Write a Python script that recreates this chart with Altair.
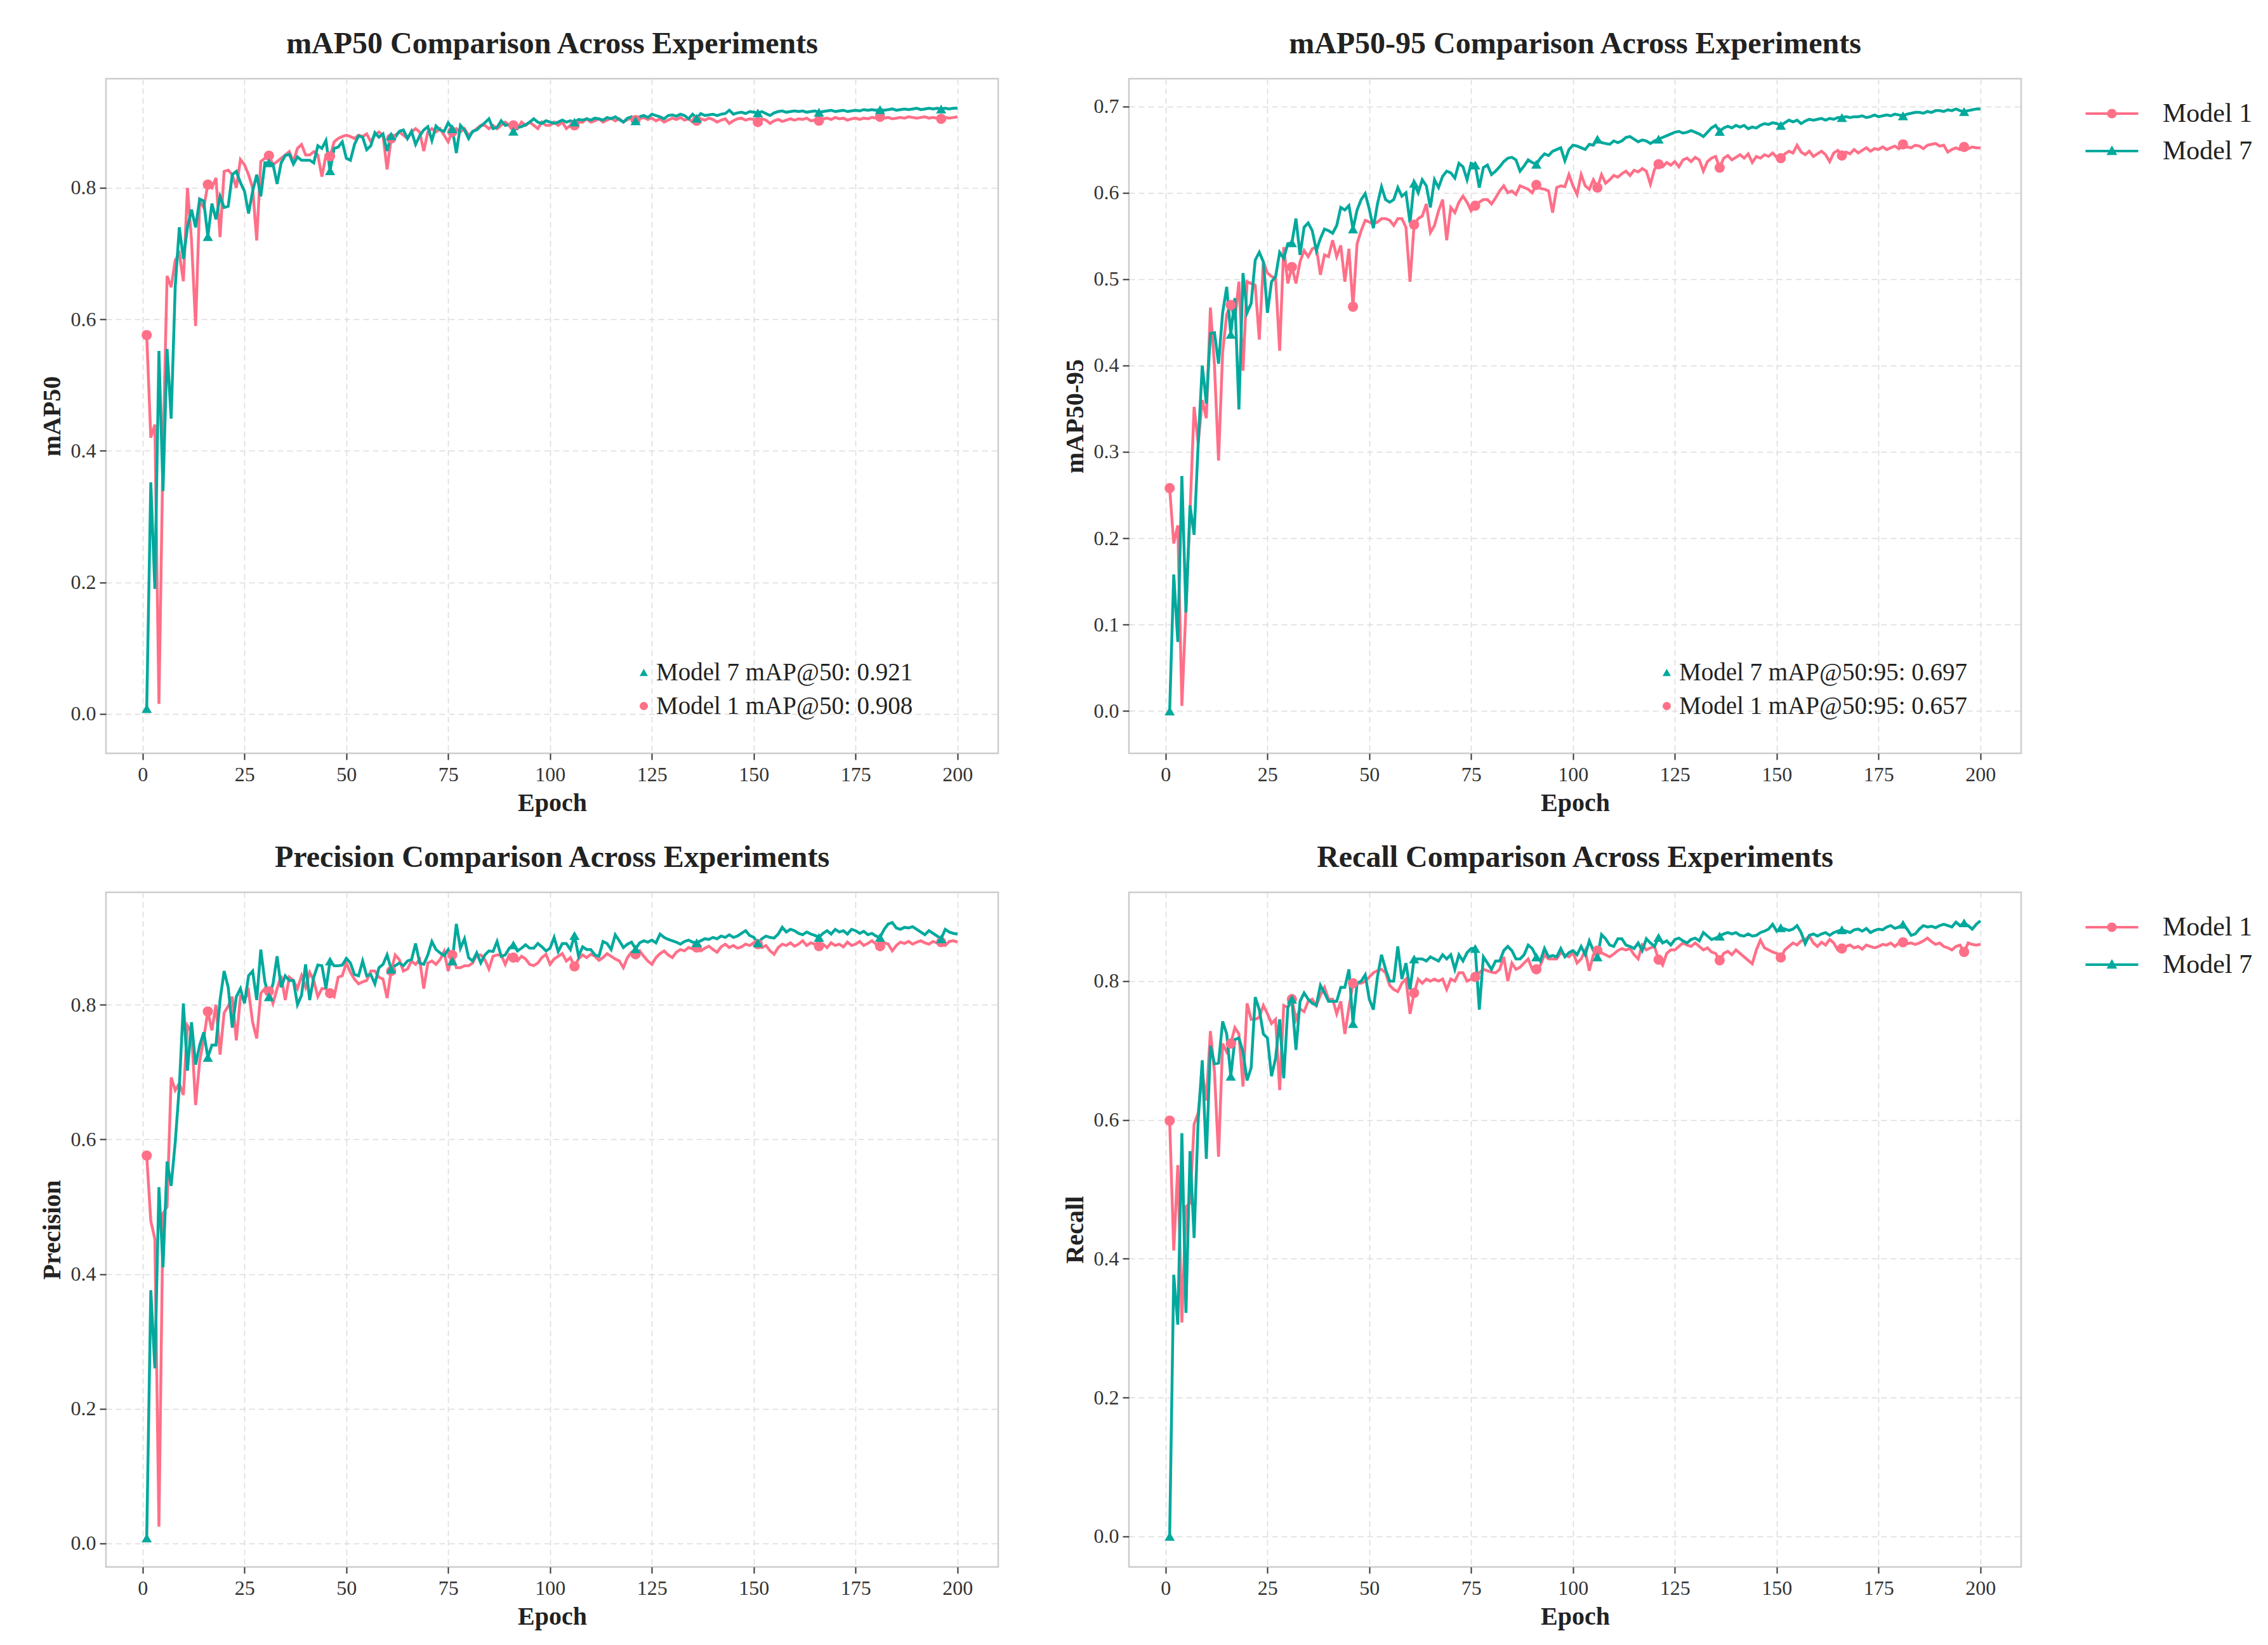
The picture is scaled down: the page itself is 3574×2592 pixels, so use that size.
import pandas as pd
import altair as alt

FONT = "Liberation Serif"
PINK = "#ff6f88"
TEAL = "#00a99d"

epochs = list(range(1, 201))
models = ["Model 1", "Model 7"]

# mAP50
m1_map50 = [
    0.576, 0.420, 0.440, 0.015, 0.400, 0.666, 0.649, 0.690, 0.700, 0.658,
    0.800, 0.720, 0.590, 0.780, 0.770, 0.805, 0.800, 0.815, 0.725, 0.825,
    0.827, 0.820, 0.800, 0.843, 0.835, 0.820, 0.800, 0.720, 0.840, 0.845,
    0.849, 0.835, 0.840, 0.845, 0.850, 0.855, 0.840, 0.860, 0.866, 0.850,
    0.850, 0.855, 0.850, 0.817, 0.850, 0.848, 0.870, 0.875, 0.878, 0.880,
    0.878, 0.875, 0.880, 0.878, 0.882, 0.870, 0.880, 0.885, 0.880, 0.828,
    0.875, 0.880, 0.885, 0.880, 0.875, 0.885, 0.890, 0.885, 0.856, 0.885,
    0.890, 0.885, 0.890, 0.880, 0.870, 0.885, 0.890, 0.885, 0.890, 0.880,
    0.885, 0.890, 0.895, 0.895, 0.890, 0.895, 0.890, 0.895, 0.900, 0.895,
    0.895, 0.890, 0.900, 0.895, 0.900, 0.895, 0.890, 0.900, 0.895, 0.895,
    0.900, 0.895, 0.900, 0.890, 0.895, 0.895, 0.900, 0.900, 0.905, 0.900,
    0.902, 0.905, 0.900, 0.903, 0.906, 0.902, 0.905, 0.900, 0.904, 0.906,
    0.903, 0.905, 0.907, 0.904, 0.906, 0.902, 0.905, 0.900, 0.903, 0.906,
    0.904, 0.907, 0.903, 0.905, 0.900, 0.902, 0.905, 0.903, 0.906, 0.904,
    0.900, 0.903, 0.905, 0.898, 0.902, 0.905, 0.906, 0.903, 0.905, 0.904,
    0.900, 0.905, 0.903, 0.898, 0.902, 0.904, 0.901, 0.903, 0.905, 0.903,
    0.905, 0.904, 0.906, 0.902, 0.903, 0.902, 0.905, 0.906, 0.904, 0.907,
    0.905, 0.906, 0.903, 0.905, 0.906, 0.904, 0.906, 0.905, 0.907, 0.906,
    0.908, 0.906, 0.907, 0.905, 0.906, 0.907, 0.906, 0.908, 0.907, 0.906,
    0.907, 0.908, 0.906, 0.907, 0.906, 0.905, 0.907, 0.906, 0.907, 0.908,
]
m7_map50 = [
    0.008, 0.352, 0.190, 0.552, 0.339, 0.555, 0.449, 0.650, 0.740, 0.692,
    0.740, 0.767, 0.740, 0.783, 0.780, 0.726, 0.776, 0.752, 0.787, 0.770,
    0.772, 0.820, 0.825, 0.808, 0.795, 0.761, 0.795, 0.820, 0.787, 0.838,
    0.838, 0.836, 0.806, 0.838, 0.849, 0.851, 0.836, 0.847, 0.842, 0.842,
    0.842, 0.838, 0.864, 0.860, 0.872, 0.826, 0.860, 0.862, 0.870, 0.845,
    0.842, 0.866, 0.879, 0.877, 0.858, 0.864, 0.884, 0.877, 0.882, 0.856,
    0.879, 0.877, 0.886, 0.888, 0.875, 0.886, 0.866, 0.879, 0.888, 0.893,
    0.872, 0.894, 0.888, 0.886, 0.899, 0.890, 0.853, 0.895, 0.888, 0.875,
    0.886, 0.888, 0.894, 0.899, 0.905, 0.890, 0.892, 0.902, 0.895, 0.896,
    0.886, 0.892, 0.893, 0.896, 0.900, 0.905, 0.900, 0.898, 0.902, 0.900,
    0.898, 0.900, 0.903, 0.900, 0.902, 0.900, 0.904, 0.903, 0.905, 0.903,
    0.906, 0.905, 0.903, 0.907, 0.905, 0.908, 0.904, 0.900, 0.906, 0.908,
    0.902, 0.908, 0.910, 0.907, 0.912, 0.910, 0.908, 0.905, 0.910, 0.911,
    0.909, 0.912, 0.910, 0.905, 0.912, 0.906, 0.913, 0.910, 0.911, 0.912,
    0.910, 0.912, 0.913, 0.918, 0.912, 0.914, 0.915, 0.913, 0.916, 0.915,
    0.914, 0.916, 0.913, 0.910, 0.914, 0.916, 0.917, 0.915, 0.916, 0.917,
    0.916, 0.917, 0.915, 0.916, 0.917, 0.915, 0.916, 0.917, 0.918, 0.916,
    0.917, 0.918, 0.916, 0.917, 0.918, 0.917, 0.919, 0.918, 0.919, 0.918,
    0.919, 0.918, 0.919, 0.920, 0.918, 0.919, 0.920, 0.919, 0.920, 0.921,
    0.919, 0.920, 0.921, 0.920, 0.921, 0.920, 0.921, 0.920, 0.921, 0.921,
]

# mAP50-95
m1_map5095 = [
    0.258, 0.194, 0.215, 0.006, 0.120, 0.230, 0.352, 0.310, 0.360, 0.339,
    0.467, 0.400, 0.290, 0.415, 0.459, 0.470, 0.453, 0.497, 0.394, 0.497,
    0.495, 0.493, 0.430, 0.520, 0.507, 0.503, 0.501, 0.417, 0.537, 0.495,
    0.514, 0.495, 0.520, 0.533, 0.526, 0.535, 0.537, 0.505, 0.528, 0.526,
    0.545, 0.526, 0.539, 0.497, 0.535, 0.468, 0.541, 0.556, 0.568, 0.566,
    0.564, 0.566, 0.570, 0.570, 0.568, 0.562, 0.570, 0.570, 0.560, 0.497,
    0.563, 0.570, 0.573, 0.587, 0.554, 0.562, 0.579, 0.592, 0.545, 0.583,
    0.577, 0.589, 0.596, 0.589, 0.579, 0.585, 0.589, 0.592, 0.592, 0.587,
    0.594, 0.602, 0.608, 0.600, 0.602, 0.598, 0.608, 0.606, 0.604, 0.600,
    0.609, 0.605, 0.604, 0.602, 0.577, 0.606, 0.608, 0.607, 0.621, 0.608,
    0.598, 0.621, 0.608, 0.604, 0.615, 0.606, 0.621, 0.611, 0.615, 0.620,
    0.618, 0.622, 0.625, 0.620, 0.626, 0.624, 0.628, 0.625, 0.610, 0.627,
    0.633, 0.630, 0.635, 0.632, 0.636, 0.630, 0.638, 0.640, 0.636, 0.641,
    0.638, 0.625, 0.636, 0.640, 0.642, 0.629, 0.640, 0.643, 0.638, 0.641,
    0.644, 0.640, 0.645, 0.635, 0.642, 0.640, 0.644, 0.642, 0.646, 0.641,
    0.640, 0.645, 0.648, 0.646, 0.655, 0.647, 0.644, 0.648, 0.642, 0.645,
    0.648, 0.644, 0.636, 0.646, 0.649, 0.643, 0.647, 0.645, 0.650, 0.646,
    0.649, 0.652, 0.648, 0.651, 0.650, 0.653, 0.650, 0.652, 0.654, 0.651,
    0.656, 0.653, 0.652, 0.655, 0.654, 0.651, 0.655, 0.656, 0.657, 0.654,
    0.655, 0.647, 0.650, 0.652, 0.650, 0.653, 0.651, 0.653, 0.652, 0.652,
]
m7_map5095 = [
    0.000, 0.158, 0.080, 0.272, 0.114, 0.238, 0.204, 0.309, 0.400, 0.356,
    0.437, 0.438, 0.402, 0.461, 0.491, 0.436, 0.478, 0.349, 0.507, 0.461,
    0.472, 0.522, 0.531, 0.520, 0.461, 0.497, 0.503, 0.531, 0.524, 0.541,
    0.542, 0.570, 0.528, 0.560, 0.565, 0.556, 0.533, 0.547, 0.558, 0.556,
    0.553, 0.562, 0.583, 0.580, 0.585, 0.558, 0.580, 0.592, 0.599, 0.581,
    0.559, 0.587, 0.607, 0.592, 0.589, 0.592, 0.606, 0.596, 0.600, 0.565,
    0.611, 0.600, 0.615, 0.608, 0.583, 0.615, 0.606, 0.619, 0.625, 0.623,
    0.617, 0.634, 0.630, 0.615, 0.634, 0.632, 0.606, 0.629, 0.632, 0.621,
    0.625, 0.630, 0.636, 0.640, 0.641, 0.638, 0.625, 0.631, 0.638, 0.635,
    0.633, 0.640, 0.645, 0.643, 0.648, 0.650, 0.652, 0.637, 0.650, 0.655,
    0.654, 0.652, 0.650, 0.656, 0.655, 0.662, 0.658, 0.657, 0.656, 0.660,
    0.658, 0.660, 0.664, 0.665, 0.662, 0.659, 0.661, 0.660, 0.657, 0.660,
    0.662, 0.664, 0.666, 0.668, 0.670, 0.671, 0.669, 0.670, 0.672, 0.670,
    0.668, 0.665, 0.670, 0.675, 0.678, 0.671, 0.675, 0.677, 0.675, 0.678,
    0.676, 0.678, 0.674, 0.676, 0.675, 0.678, 0.680, 0.679, 0.681, 0.680,
    0.678, 0.681, 0.684, 0.682, 0.684, 0.680, 0.683, 0.685, 0.684, 0.685,
    0.686, 0.684, 0.686, 0.685, 0.687, 0.687, 0.688, 0.687, 0.688, 0.688,
    0.689, 0.687, 0.688, 0.690, 0.688, 0.689, 0.690, 0.689, 0.691, 0.690,
    0.689, 0.691, 0.692, 0.693, 0.693, 0.692, 0.694, 0.693, 0.695, 0.695,
    0.694, 0.696, 0.695, 0.697, 0.695, 0.694, 0.695, 0.696, 0.697, 0.697,
]

# Precision
m1_prec = [
    0.576, 0.479, 0.452, 0.025, 0.490, 0.500, 0.692, 0.673, 0.683, 0.666,
    0.769, 0.759, 0.651, 0.716, 0.750, 0.790, 0.762, 0.800, 0.726, 0.788,
    0.798, 0.812, 0.747, 0.812, 0.807, 0.820, 0.774, 0.750, 0.817, 0.824,
    0.820, 0.802, 0.824, 0.843, 0.807, 0.841, 0.836, 0.824, 0.843, 0.826,
    0.848, 0.836, 0.812, 0.824, 0.824, 0.817, 0.812, 0.841, 0.843, 0.862,
    0.848, 0.838, 0.831, 0.834, 0.836, 0.850, 0.850, 0.841, 0.838, 0.810,
    0.850, 0.874, 0.867, 0.850, 0.853, 0.865, 0.860, 0.867, 0.824, 0.862,
    0.865, 0.860, 0.867, 0.879, 0.850, 0.874, 0.855, 0.855, 0.858, 0.858,
    0.862, 0.874, 0.874, 0.867, 0.853, 0.872, 0.874, 0.874, 0.860, 0.874,
    0.870, 0.865, 0.872, 0.868, 0.860, 0.858, 0.862, 0.870, 0.875, 0.860,
    0.868, 0.872, 0.876, 0.865, 0.870, 0.857, 0.868, 0.874, 0.870, 0.875,
    0.872, 0.866, 0.870, 0.876, 0.872, 0.868, 0.865, 0.855, 0.870, 0.878,
    0.875, 0.880, 0.872, 0.865, 0.860, 0.870, 0.876, 0.880, 0.874, 0.870,
    0.878, 0.882, 0.880, 0.885, 0.883, 0.885, 0.880, 0.884, 0.887, 0.882,
    0.878, 0.886, 0.890, 0.885, 0.888, 0.884, 0.886, 0.890, 0.888, 0.892,
    0.890, 0.885, 0.888, 0.880, 0.875, 0.885, 0.890, 0.888, 0.892, 0.887,
    0.890, 0.895, 0.888, 0.892, 0.890, 0.887, 0.890, 0.885, 0.892, 0.888,
    0.890, 0.886, 0.893, 0.888, 0.890, 0.894, 0.888, 0.891, 0.895, 0.890,
    0.887, 0.892, 0.890, 0.880, 0.888, 0.893, 0.891, 0.894, 0.890, 0.893,
    0.895, 0.892, 0.890, 0.894, 0.892, 0.893, 0.888, 0.894, 0.895, 0.893,
]
m7_prec = [
    0.008, 0.376, 0.260, 0.529, 0.410, 0.567, 0.531, 0.596, 0.678, 0.802,
    0.702, 0.774, 0.711, 0.740, 0.759, 0.722, 0.740, 0.740, 0.807, 0.850,
    0.826, 0.766, 0.812, 0.824, 0.802, 0.843, 0.850, 0.807, 0.882, 0.834,
    0.812, 0.831, 0.872, 0.826, 0.843, 0.836, 0.836, 0.800, 0.814, 0.860,
    0.807, 0.841, 0.859, 0.858, 0.824, 0.865, 0.858, 0.858, 0.859, 0.869,
    0.862, 0.845, 0.843, 0.865, 0.843, 0.845, 0.831, 0.855, 0.860, 0.874,
    0.853, 0.858, 0.862, 0.858, 0.865, 0.867, 0.891, 0.862, 0.860, 0.874,
    0.894, 0.882, 0.877, 0.873, 0.882, 0.865, 0.920, 0.884, 0.898, 0.870,
    0.865, 0.877, 0.862, 0.874, 0.880, 0.879, 0.894, 0.872, 0.874, 0.884,
    0.889, 0.880, 0.884, 0.889, 0.884, 0.884, 0.891, 0.886, 0.880, 0.884,
    0.900, 0.879, 0.891, 0.891, 0.882, 0.903, 0.872, 0.886, 0.882, 0.882,
    0.874, 0.872, 0.894, 0.891, 0.882, 0.904, 0.895, 0.885, 0.890, 0.893,
    0.883, 0.892, 0.895, 0.893, 0.896, 0.892, 0.905, 0.900, 0.897, 0.895,
    0.893, 0.890, 0.894, 0.896, 0.893, 0.892, 0.895, 0.898, 0.897, 0.900,
    0.898, 0.902, 0.900, 0.904, 0.900, 0.902, 0.906, 0.910, 0.903, 0.900,
    0.892, 0.898, 0.902, 0.900, 0.899, 0.905, 0.915, 0.908, 0.912, 0.910,
    0.906, 0.904, 0.908, 0.905, 0.903, 0.900, 0.906, 0.910, 0.905, 0.912,
    0.908, 0.910, 0.905, 0.912, 0.910, 0.906, 0.909, 0.904, 0.906, 0.902,
    0.900, 0.912, 0.920, 0.922, 0.914, 0.912, 0.915, 0.914, 0.916, 0.912,
    0.908, 0.904, 0.910, 0.906, 0.902, 0.898, 0.912, 0.908, 0.906, 0.905,
]

# Recall
m1_rec = [
    0.599, 0.412, 0.535, 0.308, 0.475, 0.480, 0.594, 0.610, 0.669, 0.628,
    0.728, 0.669, 0.547, 0.710, 0.698, 0.710, 0.733, 0.724, 0.648, 0.768,
    0.745, 0.745, 0.748, 0.765, 0.753, 0.739, 0.745, 0.643, 0.765, 0.762,
    0.774, 0.745, 0.760, 0.756, 0.771, 0.774, 0.765, 0.780, 0.791, 0.774,
    0.774, 0.753, 0.771, 0.724, 0.762, 0.797, 0.797, 0.797, 0.800, 0.806,
    0.812, 0.815, 0.817, 0.812, 0.794, 0.788, 0.785, 0.797, 0.803, 0.753,
    0.783, 0.803, 0.797, 0.803, 0.800, 0.803, 0.800, 0.803, 0.788, 0.803,
    0.800, 0.812, 0.812, 0.800, 0.803, 0.806, 0.812, 0.817, 0.815, 0.813,
    0.812, 0.817, 0.835, 0.800, 0.826, 0.817, 0.820, 0.826, 0.832, 0.817,
    0.817, 0.823, 0.838, 0.832, 0.832, 0.832, 0.841, 0.838, 0.835, 0.841,
    0.826, 0.832, 0.844, 0.815, 0.838, 0.844, 0.841, 0.838, 0.835, 0.839,
    0.844, 0.847, 0.845, 0.847, 0.838, 0.832, 0.852, 0.845, 0.848, 0.850,
    0.831, 0.823, 0.840, 0.845, 0.845, 0.850, 0.855, 0.852, 0.850, 0.855,
    0.850, 0.845, 0.848, 0.842, 0.840, 0.830, 0.840, 0.843, 0.838, 0.845,
    0.840, 0.835, 0.830, 0.825, 0.845, 0.859, 0.848, 0.845, 0.842, 0.840,
    0.834, 0.845, 0.850, 0.855, 0.852, 0.858, 0.860, 0.865, 0.855, 0.850,
    0.856, 0.852, 0.860, 0.855, 0.845, 0.847, 0.850, 0.852, 0.848, 0.850,
    0.846, 0.852, 0.850, 0.848, 0.850, 0.853, 0.852, 0.855, 0.850, 0.855,
    0.856, 0.854, 0.855, 0.853, 0.855, 0.858, 0.862, 0.857, 0.853, 0.855,
    0.850, 0.848, 0.845, 0.850, 0.852, 0.842, 0.855, 0.853, 0.852, 0.853,
]
m7_rec = [
    0.000, 0.377, 0.305, 0.581, 0.322, 0.555, 0.430, 0.600, 0.686, 0.544,
    0.707, 0.681, 0.682, 0.742, 0.724, 0.663, 0.716, 0.718, 0.698, 0.657,
    0.675, 0.777, 0.759, 0.724, 0.718, 0.663, 0.689, 0.745, 0.660, 0.762,
    0.774, 0.701, 0.771, 0.783, 0.774, 0.768, 0.765, 0.794, 0.783, 0.771,
    0.771, 0.771, 0.791, 0.791, 0.817, 0.739, 0.797, 0.800, 0.809, 0.774,
    0.759, 0.806, 0.838, 0.817, 0.800, 0.800, 0.850, 0.803, 0.826, 0.788,
    0.832, 0.832, 0.832, 0.829, 0.835, 0.832, 0.829, 0.838, 0.832, 0.838,
    0.817, 0.838, 0.829, 0.841, 0.847, 0.847, 0.759, 0.835, 0.826, 0.817,
    0.829, 0.829, 0.844, 0.850, 0.844, 0.832, 0.832, 0.838, 0.852, 0.847,
    0.835, 0.829, 0.847, 0.835, 0.837, 0.835, 0.847, 0.835, 0.841, 0.844,
    0.838, 0.850, 0.838, 0.858, 0.844, 0.835, 0.867, 0.861, 0.852, 0.850,
    0.861, 0.861, 0.852, 0.850, 0.847, 0.855, 0.844, 0.861, 0.855, 0.850,
    0.863, 0.855, 0.858, 0.852, 0.860, 0.862, 0.858, 0.855, 0.860, 0.862,
    0.858, 0.870, 0.865, 0.860, 0.862, 0.865, 0.868, 0.870, 0.868, 0.870,
    0.866, 0.865, 0.868, 0.865, 0.866, 0.870, 0.872, 0.875, 0.882, 0.872,
    0.877, 0.875, 0.873, 0.875, 0.880, 0.870, 0.854, 0.866, 0.868, 0.865,
    0.868, 0.870, 0.866, 0.870, 0.872, 0.874, 0.872, 0.870, 0.874, 0.875,
    0.872, 0.876, 0.870, 0.873, 0.875, 0.874, 0.878, 0.880, 0.876, 0.878,
    0.882, 0.875, 0.866, 0.868, 0.875, 0.880, 0.878, 0.879, 0.877, 0.880,
    0.882, 0.880, 0.878, 0.885, 0.880, 0.884, 0.880, 0.875, 0.882, 0.887,
]

series = {
    "map50": (m1_map50, m7_map50),
    "map5095": (m1_map5095, m7_map5095),
    "precision": (m1_prec, m7_prec),
    "recall": (m1_rec, m7_rec),
}

rows = []
for metric, (a, b) in series.items():
    for model, vals in zip(models, (a, b)):
        for ep, v in zip(epochs, vals):
            rows.append({"metric": metric, "model": model, "epoch": ep, "value": v})
df = pd.DataFrame(rows)

color_scale = alt.Scale(domain=models, range=[PINK, TEAL])

# legend symbols: a short bar (the line) with the marker on top, like matplotlib
LINE_CIRCLE = ("M-2.77,-0.13H2.77V0.13H-2.77Z"
               "M0.5,0A0.5,0.5,0,1,1,-0.5,0A0.5,0.5,0,1,1,0.5,0Z")
LINE_TRI = "M-2.77,-0.13H2.77V0.13H-2.77ZM0,-0.58L0.56,0.42L-0.56,0.42Z"


def main_legend():
    return alt.Legend(
        title=None, orient="none", legendX=1528, legendY=34,
        labelFont=FONT, labelFontSize=42, labelColor="#222", labelLimit=0,
        symbolSize=900, symbolOpacity=1, symbolStrokeWidth=0,
        labelOffset=59, rowPadding=17,
    )


def note_legend():
    return alt.Legend(
        title=None, orient="none", legendX=828, legendY=916,
        labelFont=FONT, labelFontSize=39, labelColor="#222", labelLimit=0,
        symbolSize=170, symbolOpacity=1, symbolStrokeWidth=0,
        labelOffset=0, rowPadding=13,
    )


def x_axis():
    return alt.Axis(
        title="Epoch", values=list(range(0, 201, 25)), format="d",
        labelFont=FONT, labelFontSize=32, labelColor="#333", labelPadding=8,
        titleFont=FONT, titleFontSize=40, titleFontWeight="bold", titleColor="#222",
        titlePadding=9, tickSize=10, tickWidth=2, tickColor="#333", domain=False,
        grid=True, gridColor="#dcdcdc", gridDash=[9, 6], gridWidth=1.6,
    )


def y_axis(title, ticks):
    return alt.Axis(
        title=title, values=ticks, format=".1f",
        labelFont=FONT, labelFontSize=32, labelColor="#333", labelPadding=6,
        titleFont=FONT, titleFontSize=40, titleFontWeight="bold", titleColor="#222",
        titlePadding=9, tickSize=10, tickWidth=2, tickColor="#333", domain=False,
        grid=True, gridColor="#dcdcdc", gridDash=[9, 6], gridWidth=1.6,
    )


def panel(metric, title, ytitle, ydomain, yticks, show_legend, notes=None):
    sub = df[df["metric"] == metric]
    xs = alt.Scale(domain=[-9, 210], nice=False, zero=False)
    ys = alt.Scale(domain=ydomain, nice=False, zero=False)
    base = alt.Chart(sub).encode(
        x=alt.X("epoch:Q", scale=xs, axis=x_axis()),
        y=alt.Y("value:Q", scale=ys, axis=y_axis(ytitle, yticks)),
    )
    color = alt.Color("model:N", scale=color_scale, legend=None)
    line = base.mark_line(strokeWidth=4.5).encode(color=color)
    marked = base.transform_filter("(datum.epoch - 1) % 15 == 0")
    pts1 = marked.transform_filter("datum.model == 'Model 1'").mark_point(
        shape="circle", filled=True, size=260, opacity=1).encode(color=color)
    pts7 = marked.transform_filter("datum.model == 'Model 7'").mark_point(
        shape="triangle-up", filled=True, size=260, opacity=1).encode(color=color)
    layers = [alt.layer(line, pts1, pts7)]

    if show_legend:
        leg_df = sub[sub["epoch"] == 200]
        leg = alt.Chart(leg_df).mark_point(filled=True, opacity=0).encode(
            x=alt.X("epoch:Q", scale=xs), y=alt.Y("value:Q", scale=ys),
            color=alt.Color("model:N", scale=color_scale, legend=main_legend()),
            shape=alt.Shape("model:N", scale=alt.Scale(domain=models, range=[LINE_CIRCLE, LINE_TRI]),
                            legend=main_legend()),
        )
        layers.append(leg)

    if notes is not None:
        note_df = pd.DataFrame({
            "note": notes,
            "epoch": [200, 200],
            "value": [sub[sub.model == "Model 7"].value.iloc[-1], sub[sub.model == "Model 1"].value.iloc[-1]],
        })
        note = alt.Chart(note_df).mark_point(filled=True, opacity=0).encode(
            x=alt.X("epoch:Q", scale=xs), y=alt.Y("value:Q", scale=ys),
            color=alt.Color("note:N", scale=alt.Scale(domain=notes, range=[TEAL, PINK]), legend=note_legend()),
            shape=alt.Shape("note:N", scale=alt.Scale(domain=notes, range=["triangle-up", "circle"]),
                            legend=note_legend()),
        )
        layers.append(note)

    chart = alt.layer(*layers)
    if len(layers) > 1:
        chart = chart.resolve_scale(color="independent", shape="independent")
    return chart.properties(
        width=1406, height=1063,
        title=alt.TitleParams(title, font=FONT, fontSize=48, fontWeight="bold", color="#222",
                              anchor="middle", frame="group", offset=30),
    )


p1 = panel("map50", "mAP50 Comparison Across Experiments", "mAP50", [-0.06, 0.966],
           [0, 0.2, 0.4, 0.6, 0.8], False,
           ["Model 7 mAP@50: 0.921", "Model 1 mAP@50: 0.908"])
p2 = panel("map5095", "mAP50-95 Comparison Across Experiments", "mAP50-95", [-0.049, 0.732],
           [0, 0.1, 0.2, 0.3, 0.4, 0.5, 0.6, 0.7], True,
           ["Model 7 mAP@50:95: 0.697", "Model 1 mAP@50:95: 0.657"])
p3 = panel("precision", "Precision Comparison Across Experiments", "Precision", [-0.035, 0.967],
           [0, 0.2, 0.4, 0.6, 0.8], False)
p4 = panel("recall", "Recall Comparison Across Experiments", "Recall", [-0.044, 0.928],
           [0, 0.2, 0.4, 0.6, 0.8], True)

top = alt.hconcat(p1, p2, spacing=97).resolve_scale(color="independent", shape="independent")
bottom = alt.hconcat(p3, p4, spacing=97).resolve_scale(color="independent", shape="independent")

chart = alt.vconcat(top, bottom, spacing=39).resolve_scale(
    color="independent", shape="independent"
).properties(
    padding={"left": 52, "top": 36, "right": 10, "bottom": 10},
    background="white",
).configure_view(
    stroke="#cccccc", strokeWidth=2.5
)

chart.save("out.html", embed_options={"renderer": "svg", "actions": False})
